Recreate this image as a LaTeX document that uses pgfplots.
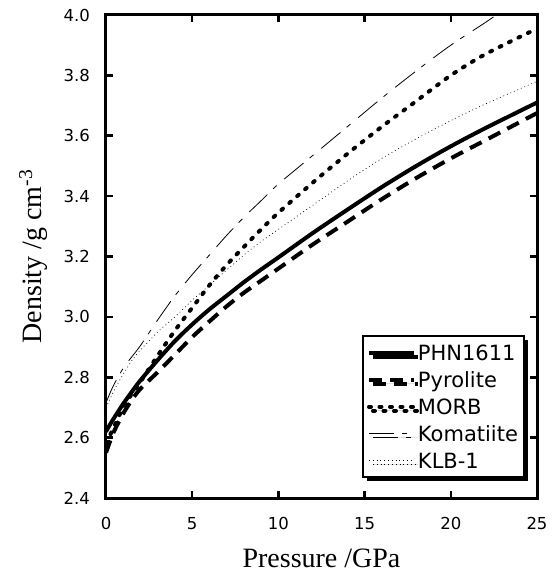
\documentclass[border=0pt]{standalone}
\usepackage{fontspec}
\setmainfont{Liberation Serif}
\newfontfamily\gen{DejaVu Sans}
\usepackage{pgfplots}
\pgfplotsset{compat=1.18}
\usetikzlibrary{shadows}

\begin{document}
\begin{tikzpicture}
\useasboundingbox (-106pt,-78pt) rectangle (446pt,498pt);
\begin{axis}[
    at={(0,0)}, anchor=south west,
    scale only axis, width=431pt, height=483pt,
    xmin=0, xmax=25, ymin=2.4, ymax=4.0,
    xtick={0,5,10,15,20,25},
    ytick={2.4,2.6,2.8,3.0,3.2,3.4,3.6,3.8,4.0},
    /pgf/number format/assume math mode=true,
    yticklabel style={/pgf/number format/fixed, /pgf/number format/fixed zerofill,
        /pgf/number format/precision=1,
        font=\gen\fontsize{16.5}{19}\selectfont, inner sep=0pt, anchor=east, xshift=-16pt},
    xticklabel style={font=\gen\fontsize{16.5}{19}\selectfont, inner sep=0pt,
        anchor=north, yshift=-19pt},
    tick align=inside, major tick length=7pt,
    tick style={line width=2.5pt, black},
    axis line style={line width=3pt},
    xlabel={Pressure /GPa},
    ylabel={Density /g cm\textsuperscript{-3}},
    xlabel style={at={(axis description cs:0.5,-0.126)}, anchor=center, font=\fontsize{28}{32}\selectfont},
    ylabel style={at={(axis description cs:-0.169,0.5)}, anchor=center, font=\fontsize{28}{32}\selectfont},
    legend style={at={(0.972,0.041)}, anchor=south east, draw=black, line width=2pt,
        fill=white, font=\gen\fontsize{21}{24}\selectfont,
        drop shadow={shadow xshift=4pt, shadow yshift=-4pt, fill=black, opacity=1},
        inner xsep=4pt, inner ysep=3pt, row sep=0pt,
        nodes={text height=18pt, text depth=3pt, inner ysep=3pt, inner xsep=2pt}},
    legend cell align=left,
    legend image code/.code={\draw[#1] (0pt,0pt) -- (45pt,0pt);},
]
% PHN1611
\addplot[black, line width=4pt, smooth] coordinates {
 (0,2.62) (0.25,2.645) (0.5,2.668) (1,2.712) (1.5,2.752) (2,2.79) (3,2.857)
 (4,2.92) (5,2.975) (6,3.025) (7,3.07) (8,3.115) (9,3.157) (10,3.197)
 (12,3.278) (14,3.355) (16,3.43) (18,3.50) (20,3.565) (22,3.625) (25,3.71)
};
\addlegendentry{PHN1611}
% Pyrolite
\addplot[black, line width=4pt, dash pattern=on 13pt off 8pt, smooth] coordinates {
 (0,2.55) (0.25,2.59) (0.5,2.625) (1,2.68) (1.5,2.725) (2,2.762) (3,2.817)
 (4,2.875) (5,2.933) (6,2.985) (7,3.035) (8,3.08) (9,3.12) (10,3.16)
 (12,3.24) (14,3.315) (16,3.39) (18,3.46) (20,3.525) (22,3.585) (25,3.675)
};
\addlegendentry{Pyrolite}
% MORB
\addplot[black, line width=4pt, line cap=round, dash pattern=on 2pt off 8.5pt, smooth] coordinates {
 (0,2.58) (0.25,2.61) (0.5,2.64) (1,2.70) (1.5,2.745) (2,2.785) (3,2.872)
 (4,2.955) (5,3.03) (6,3.105) (7,3.172) (8,3.232) (9,3.29) (10,3.345)
 (12,3.445) (14,3.54) (16,3.63) (18,3.715) (20,3.80) (22,3.87) (25,3.955)
};
\addlegendentry{MORB}
% Komatiite
\addplot[black, line width=0.8pt, dash pattern=on 25pt off 8pt on 5pt off 10pt, smooth] coordinates {
 (0,2.715) (0.25,2.75) (0.5,2.78) (1,2.83) (1.5,2.868) (2,2.905) (3,2.99)
 (4,3.07) (5,3.14) (6,3.205) (7,3.27) (8,3.33) (9,3.385) (10,3.44)
 (12,3.535) (14,3.63) (16,3.725) (18,3.815) (20,3.90) (22,3.975) (23,4.015)
};
\addlegendentry{Komatiite}
% KLB-1
\addplot[black, line width=0.7pt, dash pattern=on 0.8pt off 3pt, smooth] coordinates {
 (0,2.70) (0.25,2.73) (0.5,2.76) (1,2.81) (1.5,2.855) (2,2.89) (3,2.95)
 (4,3.00) (5,3.055) (6,3.105) (7,3.155) (8,3.205) (9,3.25) (10,3.29)
 (12,3.37) (14,3.45) (16,3.525) (18,3.59) (20,3.65) (22,3.705) (25,3.78)
};
\addlegendentry{KLB-1}
\end{axis}
\end{tikzpicture}
\end{document}
